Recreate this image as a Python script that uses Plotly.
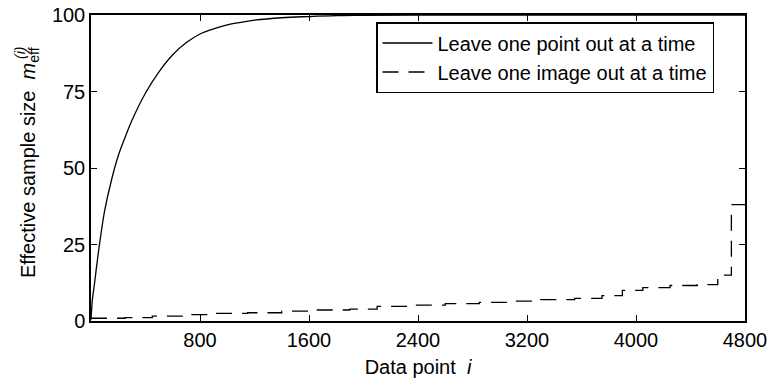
import plotly.graph_objects as go

# Leave one point out at a time (solid)
pt_x = [0, 5, 10, 25, 50, 75, 100, 150, 200, 250, 300, 400, 500, 600, 700, 800,
        900, 1000, 1100, 1200, 1400, 1600, 1800, 2000, 2400, 3200, 4000, 4800]
pt_y = [0.5, 4, 7, 12, 21, 29, 36, 46, 54, 60, 65.5, 74.5, 81.5, 87, 91, 93.8,
        95.5, 96.8, 97.6, 98.3, 99.1, 99.5, 99.8, 99.9, 100, 100, 100, 100]

# Leave one image out at a time (dashed, step-wise)
img_x = [0, 250, 450, 700, 900, 1150, 1400, 1650, 1900, 2100, 2350, 2600, 2850,
         3100, 3300, 3550, 3750, 3900, 4050, 4250, 4450, 4600, 4700, 4800]
img_y = [0.9, 1.1, 1.6, 2.1, 2.5, 2.7, 3.2, 3.6, 3.9, 4.8, 5.2, 5.7, 6.1,
         6.5, 7.0, 7.4, 8.3, 10.0, 10.9, 11.6, 11.9, 15.0, 38.0, 38.0]

x_ticks = [800, 1600, 2400, 3200, 4000, 4800]
y_ticks = [0, 25, 50, 75, 100]

FONT = "Liberation Sans, Arial, sans-serif"

fig = go.Figure()
fig.add_trace(go.Scatter(x=pt_x, y=pt_y, mode="lines", name="Leave one point out at a time",
                         line=dict(color="black", width=1.3), line_shape="spline"))
fig.add_trace(go.Scatter(x=img_x, y=img_y, mode="lines", name="Leave one image out at a time",
                         line=dict(color="black", width=1.3, dash="16px,10px"), line_shape="hv"))

axis_common = dict(showline=True, linecolor="black", linewidth=1.5, mirror="ticks",
                   ticks="inside", ticklen=6, tickwidth=1, tickcolor="black",
                   showgrid=False, zeroline=False, automargin=False,
                   tickfont=dict(family=FONT, size=20, color="black"))

fig.update_xaxes(range=[0, 4800], tickvals=x_ticks, ticktext=[str(v) for v in x_ticks],
                 title=dict(text="Data point  <i>i</i>", font=dict(family=FONT, size=20, color="black"),
                            standoff=10),
                 **axis_common)
fig.update_yaxes(range=[0, 100], tickvals=y_ticks, ticktext=[str(v) for v in y_ticks],
                 **axis_common)

fig.add_annotation(text="Effective sample size  <i>m</i><sub>eff</sub>", textangle=-90,
                   xref="paper", yref="paper", x=(30 - 91) / 654, y=(321 - 163) / 306,
                   xanchor="center", yanchor="middle", showarrow=False,
                   font=dict(family=FONT, size=20, color="black"))
fig.add_annotation(text="<i>(i)</i>", textangle=-90,
                   xref="paper", yref="paper", x=(20 - 91) / 654, y=(321 - 53) / 306,
                   xanchor="center", yanchor="middle", showarrow=False,
                   font=dict(family=FONT, size=14, color="black"))

fig.update_layout(
    width=771, height=384,
    margin=dict(l=91, r=26, t=15, b=63),
    plot_bgcolor="white", paper_bgcolor="white",
    font=dict(family=FONT, size=20, color="black"),
    showlegend=True,
    legend=dict(x=(376 - 91) / 654, y=(321 - 22) / 306, xanchor="left", yanchor="top",
                bordercolor="black", borderwidth=1.5, bgcolor="white",
                font=dict(family=FONT, size=20, color="black"),
                tracegroupgap=0, itemwidth=50),
)

fig.write_html("out.html")
